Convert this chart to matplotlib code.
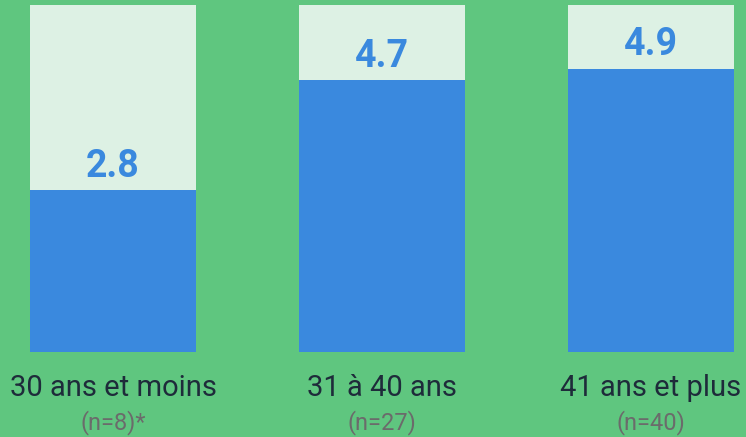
import matplotlib
matplotlib.use("Agg")
import matplotlib.pyplot as plt

categories = ["30 ans et moins", "31 à 40 ans", "41 ans et plus"]
samples = ["(n=8)*", "(n=27)", "(n=40)"]
values = [2.8, 4.7, 4.9]
scale_max = 6.0

bg = "#5fc67f"
light = "#ddf1e4"
blue = "#3a89de"

fig = plt.figure(figsize=(7.46, 4.37), dpi=100, facecolor=bg)
ax = fig.add_axes([0, 85/437, 1, 347/437])
ax.set_facecolor(bg)
x = list(range(len(categories)))
w = 166/269
ax.bar(x, [scale_max]*len(x), width=w, color=light, linewidth=0)
ax.bar(x, values, width=w, color=blue, linewidth=0)
for xi, v in zip(x, values):
    ax.annotate(f"{v:.1f}", (xi, v), xytext=(0, 24), textcoords="offset pixels",
                ha="center", va="center", fontsize=27, fontweight="bold",
                color=blue, family="Roboto")
for xi, c, s in zip(x, categories, samples):
    ax.annotate(c, (xi, 0), xytext=(0, -36), textcoords="offset pixels",
                ha="center", va="center", fontsize=21, color="#1e2b3a",
                family="Roboto", annotation_clip=False)
    ax.annotate(s, (xi, 0), xytext=(0, -71), textcoords="offset pixels",
                ha="center", va="center", fontsize=17, color="#6b6b6b",
                family="Roboto", annotation_clip=False)
ax.set_xlim(-113/269, 2 + 95/269)
ax.set_ylim(0, scale_max)
ax.axis("off")
fig.savefig("out.png", dpi=100, facecolor=bg)
